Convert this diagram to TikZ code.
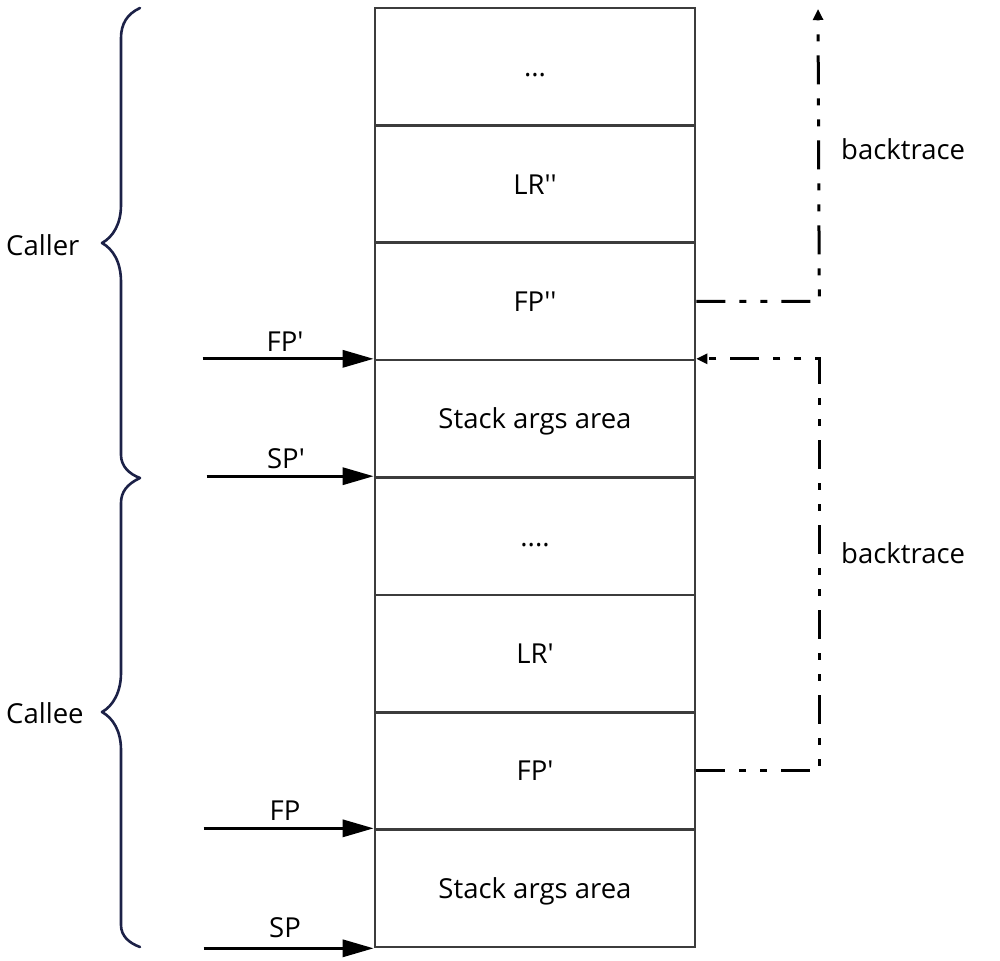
\documentclass[tikz,border=0pt]{standalone}
\usepackage{fontspec}
\setmainfont{Open Sans}[Ligatures=TeXOff]
\usetikzlibrary{arrows.meta}
\definecolor{boxgray}{HTML}{3C3C3C}
\definecolor{bracenavy}{HTML}{1C2147}
\begin{document}
\begin{tikzpicture}[x=1pt,y=-1pt,
  txt/.style={font=\fontsize{27.5}{32}\selectfont,inner sep=0pt},
  cell/.style={txt,draw=boxgray,line width=2.6pt,minimum width=320pt,minimum height=117.375pt,text height=20pt,text depth=0pt},
  ptr/.style={line width=3.2pt,-{Triangle[length=31pt,width=17pt]}},
  dd/.style={line width=3pt,dash pattern=on 29pt off 14pt on 7pt off 14pt on 7pt off 14pt},
  ddarrow/.style={dd,-{Triangle[length=11pt,width=10pt]}},
  brace/.style={draw=bracenavy,line width=2.6pt,line cap=round,line join=round}]
\useasboundingbox (0,0) rectangle (1000,960);
% stack cells
\node[cell] (c1) at (535,66.69) {...};
\node[cell] (c2) at (535,184.06) {LR''};
\node[cell] (c3) at (535,301.44) {FP''};
\node[cell] (c4) at (535,418.81) {Stack args area};
\node[cell] (c5) at (535,536.19) {....};
\node[cell] (c6) at (535,653.56) {LR'};
\node[cell] (c7) at (535,770.94) {FP'};
\node[cell] (c8) at (535,888.31) {Stack args area};
% pointer arrows
\path (c4.north west) ++(-171,0) coordinate (fpa);
\path (c5.north west) ++(-167,0) coordinate (spa);
\path (c8.north west) ++(-170,0) coordinate (fpb);
\path (c8.south west) ++(-170,0) coordinate (spb);
\draw[ptr] (fpa) -- (c4.north west);
\draw[ptr] (spa) -- (c5.north west);
\draw[ptr] (fpb) -- (c8.north west);
\draw[ptr] (spb) -- (c8.south west);
\node[txt,anchor=base] (lfpa) at (285,351) {FP'};
\node[txt,anchor=base] (lspa) at (286,468) {SP'};
\node[txt,anchor=base] (lfpb) at (285,820) {FP};
\node[txt,anchor=base] (lspb) at (285,937) {SP};
% braces
\draw[brace] (140,8) .. controls (127,14) and (121,24) .. (121,38) -- (121,205)
  .. controls (121,224) and (113,237) .. (102,243)
  .. controls (113,249) and (121,262) .. (121,282) -- (121,455)
  .. controls (121,466) and (129,474) .. (140,478);
\draw[brace] (140,478) .. controls (127,484) and (121,492) .. (121,503) -- (121,673)
  .. controls (121,692) and (113,706) .. (102,712)
  .. controls (113,718) and (121,731) .. (121,750) -- (121,925)
  .. controls (121,936) and (129,943) .. (140,947);
\node[txt,anchor=base west] (caller) at (6,255) {Caller};
\node[txt,anchor=base west] (callee) at (6,723) {Callee};
% backtrace arrows
\path (c3.east) ++(123,0) coordinate (u1);
\coordinate (u2) at (818,9);
\draw[ddarrow] (c3.east) -- (u1) -- (u2);
\path (c7.east) ++(123,0) coordinate (l1);
\path (c4.north east) ++(123,0) coordinate (l2);
\draw[ddarrow] (c7.east) -- (l1) -- (l2) -- (c4.north east);
\node[txt,anchor=base west] (bt1) at (841,160) {backtrace};
\node[txt,anchor=base west] (bt2) at (841,563) {backtrace};
\end{tikzpicture}
\end{document}
